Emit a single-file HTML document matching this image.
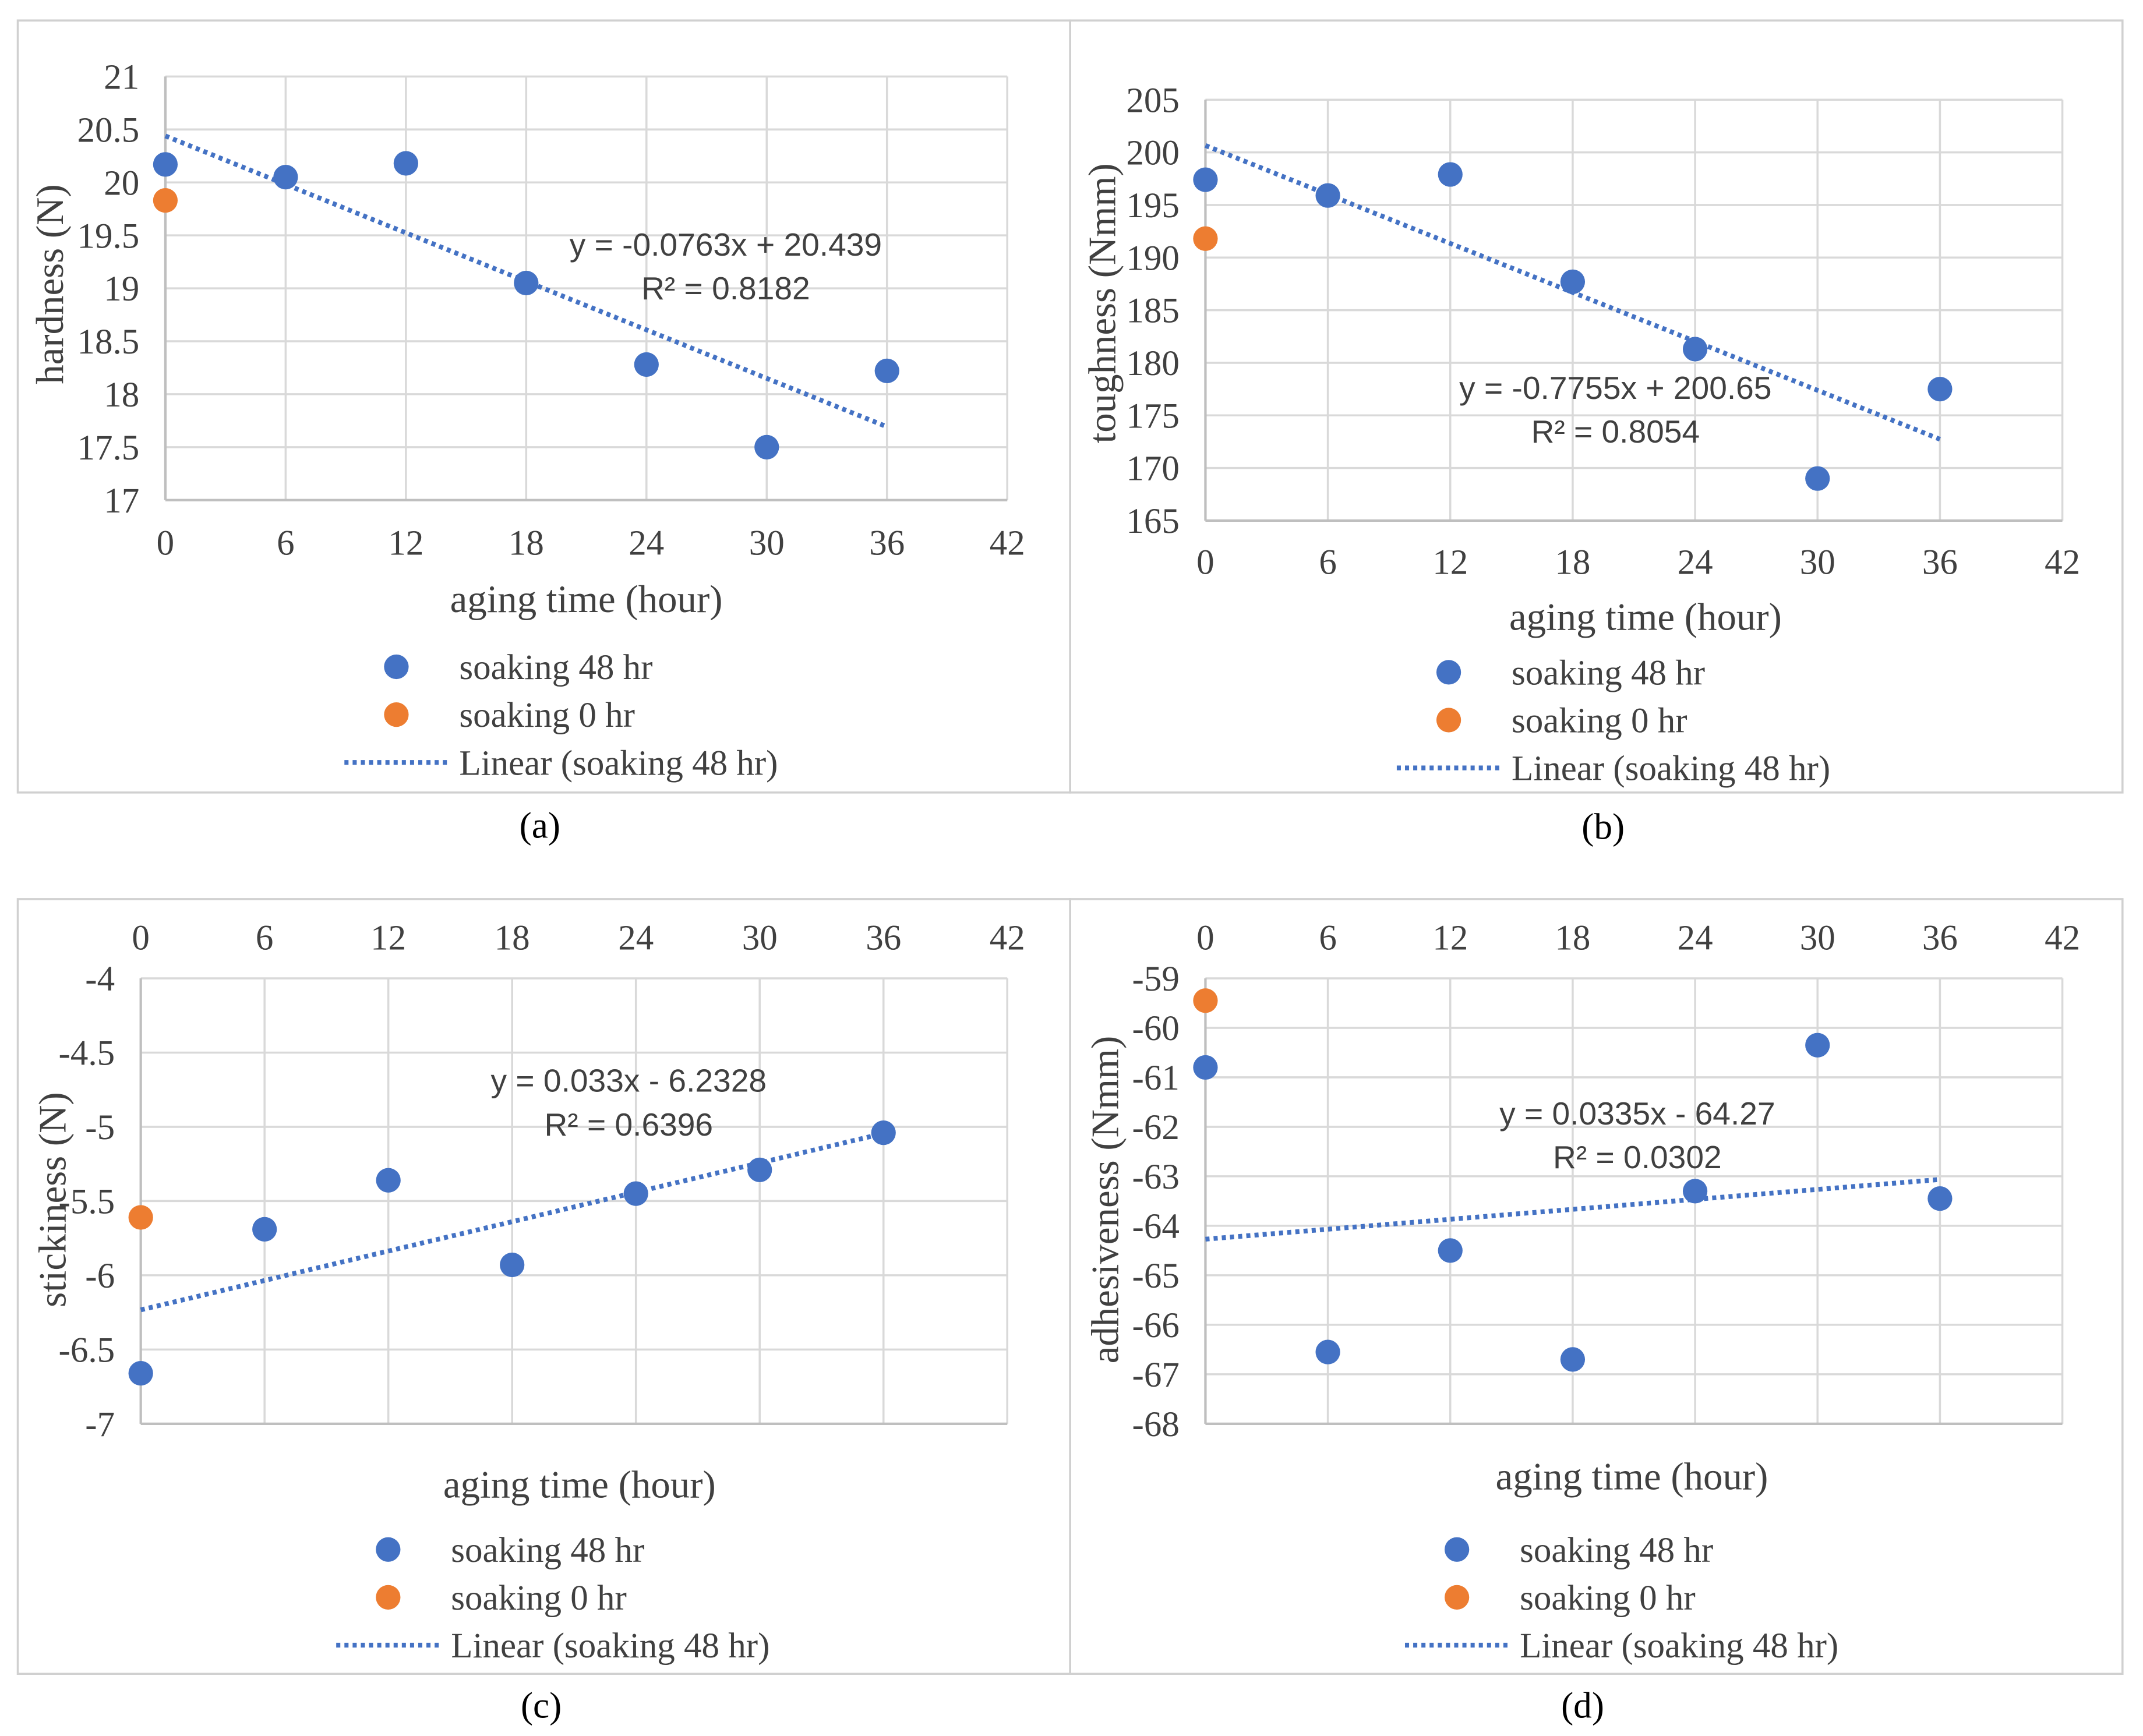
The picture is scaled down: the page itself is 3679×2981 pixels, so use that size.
<!DOCTYPE html>
<html><head><meta charset="utf-8"><style>
html,body{margin:0;padding:0;background:#fff;}
svg{display:block;}
text{font-family:"Liberation Serif",serif;fill:#404040;}
.eq{font-family:"Liberation Sans",sans-serif;}
</style></head><body>
<svg id="fig" width="3679" height="2981" viewBox="0 0 1568 1270.5" preserveAspectRatio="none" xmlns="http://www.w3.org/2000/svg">
<rect x="0" y="0" width="1568" height="1270.5" fill="#fff"/>
</svg>
<script>
// ---- data ----
const hours = [0, 6, 12, 18, 24, 30, 36];
const xTicks = [0, 6, 12, 18, 24, 30, 36, 42];
const hardness48 = [20.17, 20.05, 20.18, 19.05, 18.28, 17.5, 18.22];
const hardness0 = [19.83];
const hardnessTicks = [17, 17.5, 18, 18.5, 19, 19.5, 20, 20.5, 21];
const hardnessFit = [-0.0763, 20.439];
const toughness48 = [197.4, 195.9, 197.9, 187.7, 181.3, 169.0, 177.5];
const toughness0 = [191.8];
const toughnessTicks = [165, 170, 175, 180, 185, 190, 195, 200, 205];
const toughnessFit = [-0.7755, 200.65];
const stickiness48 = [-6.66, -5.69, -5.36, -5.93, -5.45, -5.29, -5.04];
const stickiness0 = [-5.61];
const stickinessTicks = [-7, -6.5, -6, -5.5, -5, -4.5, -4];
const stickinessFit = [0.033, -6.2328];
const adhesive48 = [-60.8, -66.55, -64.5, -66.7, -63.3, -60.35, -63.45];
const adhesive0 = [-59.45];
const adhesiveTicks = [-68, -67, -66, -65, -64, -63, -62, -61, -60, -59];
const adhesiveFit = [0.0335, -64.27];

const NS = "http://www.w3.org/2000/svg";
const svg = document.getElementById('fig');
function mk(tag, attrs, parent) {
  const e = document.createElementNS(NS, tag);
  for (const k in attrs) e.setAttribute(k, attrs[k]);
  (parent || svg).appendChild(e);
  return e;
}
function txt(s, attrs, parent) { const t = mk('text', attrs, parent); t.textContent = s; return t; }

const BLUE = '#4472C4', ORANGE = '#ED7D31';

function panel(cfg) {
  const g = mk('g', {});
  
  
  const fr = mk('rect', {x: cfg.frame[0], y: cfg.frame[1], width: cfg.frame[2], height: cfg.frame[3], fill: 'none', stroke: '#d0d0d0', 'stroke-width': 1.5}, g);
  
  
  const [x0, x1] = cfg.px, [yb, yt] = cfg.py;
  const yMin = cfg.yTicks[0], yMax = cfg.yTicks[cfg.yTicks.length - 1];
  const X = v => x0 + (v - 0) / 42 * (x1 - x0);
  const Y = v => yb - (v - yMin) / (yMax - yMin) * (yb - yt);
  cfg.yTicks.forEach(t => {
    const l = mk('line', {x1: x0, x2: x1, y1: Y(t), y2: Y(t), stroke: '#d9d9d9', 'stroke-width': 1.5}, g);
    
    
    const lab = txt(String(t), {x: x0 - 19, y: Y(t) + 9, 'text-anchor': 'end', 'font-size': 26}, g);
    
    
  });
  xTicks.forEach(t => {
    const l = mk('line', {x1: X(t), x2: X(t), y1: yt, y2: yb, stroke: '#d9d9d9', 'stroke-width': 1.5}, g);
    
    
    const lab = txt(String(t), {x: X(t), y: cfg.xLabY, 'text-anchor': 'middle', 'font-size': 26}, g);
    
    
  });
  const ax = mk('line', {x1: x0, x2: x0, y1: yt, y2: yb, stroke: '#bfbfbf', 'stroke-width': 1.8}, g);
  
  
  const axx = mk('line', {x1: x0, x2: x1, y1: yb, y2: yb, stroke: '#bfbfbf', 'stroke-width': 1.8}, g);
  
  
  const [m, b] = cfg.fit;
  const tl = mk('line', {x1: X(0), y1: Y(b), x2: X(36), y2: Y(b + m * 36), stroke: BLUE, 'stroke-width': 3.5, 'stroke-dasharray': '3 3'}, g);
  
  
  cfg.s48.forEach((v, i) => {
    const c = mk('circle', {cx: X(hours[i]), cy: Y(v), r: 9, fill: BLUE}, g);
    
    
  });
  cfg.s0.forEach((v, i) => {
    const c = mk('circle', {cx: X(hours[i]), cy: Y(v), r: 9, fill: ORANGE}, g);
    
    
  });
  const e1 = txt(cfg.eq[0], {x: cfg.eqPos[0], y: cfg.eqPos[1], 'text-anchor': 'middle', 'font-size': 23.5, class: 'eq'}, g);
  
  
  const e2 = txt(cfg.eq[1], {x: cfg.eqPos[0], y: cfg.eqPos[1] + 32, 'text-anchor': 'middle', 'font-size': 23.5, class: 'eq'}, g);
  
  
  const xt = txt('aging time (hour)', {x: cfg.xTitle[0], y: cfg.xTitle[1], 'text-anchor': 'middle', 'font-size': 28.5}, g);
  
  
  const yT = txt(cfg.yTitle, {x: 0, y: 0, 'text-anchor': 'middle', 'font-size': 28.5, transform: `translate(${cfg.yTitlePos[0]},${cfg.yTitlePos[1]}) rotate(-90)`}, g);
  
  
  const [lx, ly] = cfg.leg;
  const lg = mk('g', {}, g);
  
  
  const m1 = mk('circle', {cx: lx, cy: ly, r: 9, fill: BLUE}, lg);
  
  
  const t1 = txt('soaking 48 hr', {x: lx + 46, y: ly + 9, 'font-size': 26}, lg);
  
  
  const m2 = mk('circle', {cx: lx, cy: ly + 35, r: 9, fill: ORANGE}, lg);
  
  
  const t2 = txt('soaking 0 hr', {x: lx + 46, y: ly + 44, 'font-size': 26}, lg);
  
  
  const ll = mk('line', {x1: lx - 38, x2: lx + 37, y1: ly + 70, y2: ly + 70, stroke: BLUE, 'stroke-width': 3.5, 'stroke-dasharray': '3 3'}, lg);
  
  
  const t3 = txt('Linear (soaking 48 hr)', {x: lx + 46, y: ly + 79, 'font-size': 26}, lg);
  
  
  const cap = txt(cfg.cap[0], {x: cfg.cap[1], y: cfg.cap[2], 'text-anchor': 'middle', 'font-size': 27, style: 'fill:#000'}, g);
  
  
}

panel({name: 'hardness-chart', frame: [13, 15, 770, 565], px: [121, 737], py: [366, 56], yTicks: hardnessTicks,
  xLabY: 406, s48: hardness48, s0: hardness0, fit: hardnessFit, eq: ['y = -0.0763x + 20.439', 'R² = 0.8182'], eqPos: [531, 187],
  xTitle: [429, 448], yTitle: 'hardness (N)', yTitlePos: [46, 208], leg: [290, 488], cap: ['(a)', 395, 613]});
panel({name: 'toughness-chart', frame: [783, 15, 770, 565], px: [882, 1509], py: [381, 73], yTicks: toughnessTicks,
  xLabY: 420, s48: toughness48, s0: toughness0, fit: toughnessFit, eq: ['y = -0.7755x + 200.65', 'R² = 0.8054'], eqPos: [1182, 292],
  xTitle: [1204, 461], yTitle: 'toughness (Nmm)', yTitlePos: [816, 222], leg: [1060, 492], cap: ['(b)', 1173, 614]});
panel({name: 'stickiness-chart', frame: [13, 658, 770, 567], px: [103, 737], py: [1042, 716], yTicks: stickinessTicks,
  xLabY: 695, s48: stickiness48, s0: stickiness0, fit: stickinessFit, eq: ['y = 0.033x - 6.2328', 'R² = 0.6396'], eqPos: [460, 799],
  xTitle: [424, 1096], yTitle: 'stickiness (N)', yTitlePos: [48, 878], leg: [284, 1134], cap: ['(c)', 396, 1257]});
panel({name: 'adhesiveness-chart', frame: [783, 658, 770, 567], px: [882, 1509], py: [1042, 716], yTicks: adhesiveTicks,
  xLabY: 695, s48: adhesive48, s0: adhesive0, fit: adhesiveFit, eq: ['y = 0.0335x - 64.27', 'R² = 0.0302'], eqPos: [1198, 823],
  xTitle: [1194, 1090], yTitle: 'adhesiveness (Nmm)', yTitlePos: [818, 878], leg: [1066, 1134], cap: ['(d)', 1158, 1257]});
</script>
</body></html>
